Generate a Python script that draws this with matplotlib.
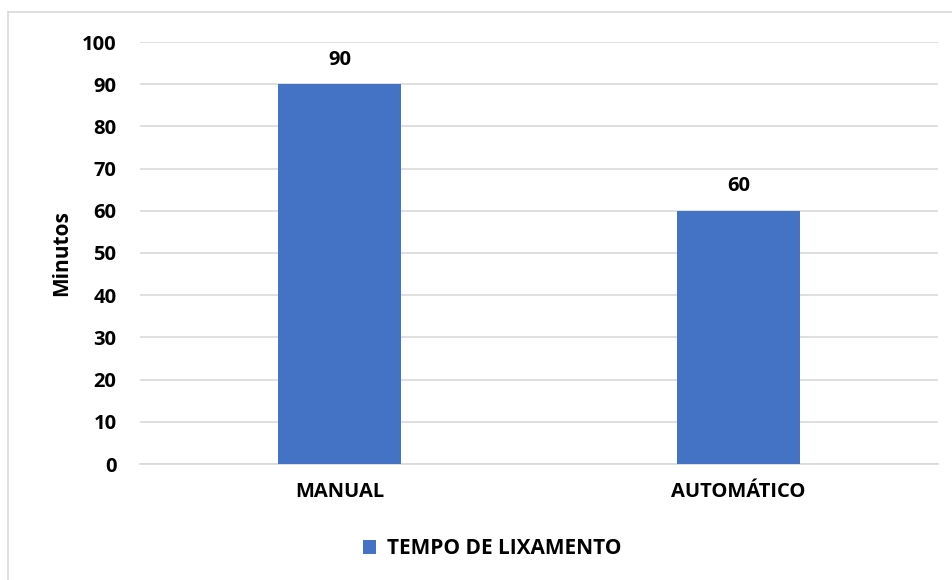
import matplotlib
matplotlib.use("Agg")
import matplotlib.pyplot as plt

categories = ["MANUAL", "AUTOMÁTICO"]
values = [90, 60]
series_name = "TEMPO DE LIXAMENTO"
yticks = [0, 10, 20, 30, 40, 50, 60, 70, 80, 90, 100]

FAM = ['Open Sans', 'DejaVu Sans']
plt.rcParams['font.family'] = FAM
W = 'bold'
FS = 14.5

fig = plt.figure(figsize=(9.52, 5.80), dpi=100)
ax = fig.add_axes([140/952, 1-464/580, (938-140)/952, (464-42)/580])

color = "#4472C4"
x = list(range(len(categories)))
bars = ax.bar(x, values, width=0.31, color=color, label=series_name, zorder=3)
for xi, v in zip(x, values):
    ax.annotate(str(v), (xi, v), xytext=(0, 10.5), textcoords="offset points",
                ha="center", va="bottom", fontsize=FS, fontweight=W)

ax.set_xlim(-0.5, len(categories) - 0.5)
ax.set_ylim(0, 100)
ax.set_yticks(yticks)
ax.set_yticklabels([str(t) for t in yticks], fontsize=FS, fontweight=W)
ax.set_xticks(x)
ax.set_xticklabels(categories, fontsize=FS, fontweight=W)
ax.tick_params(axis="both", length=0)
ax.tick_params(axis="y", pad=17)
ax.tick_params(axis="x", pad=13)
ax.grid(axis="y", color="#d9d9d9", linewidth=1.2, zorder=0)
for s in ["top", "right", "left"]:
    ax.spines[s].set_visible(False)
ax.spines["bottom"].set_color("#d9d9d9")
ax.spines["bottom"].set_linewidth(1.2)
ax.set_ylabel("Minutos", fontsize=15, fontweight=W)
ax.yaxis.set_label_coords(-68/798, 0.5)

leg = fig.legend(loc="center", bbox_to_anchor=(492/952, 1-549/580), frameon=False,
                 prop={'size': 15, 'weight': W, 'family': FAM},
                 handlelength=0.65, handleheight=0.65, handletextpad=0.5)

# chart border (left and top)
fig.add_artist(plt.Line2D([7.5/952, 7.5/952], [0, 1-12/580], transform=fig.transFigure, color="#d9d9d9", lw=1.2))
fig.add_artist(plt.Line2D([7.5/952, 1], [1-12/580, 1-12/580], transform=fig.transFigure, color="#d9d9d9", lw=1.2))

fig.savefig("out.png", dpi=100)
